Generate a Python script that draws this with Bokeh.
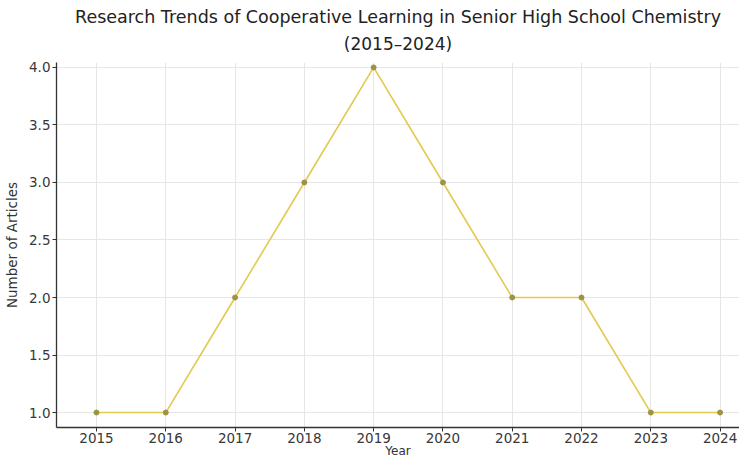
from bokeh.plotting import figure
from bokeh.models import Range1d, FixedTicker, Title, CustomJSTickFormatter
from bokeh.embed import file_html
from bokeh.resources import INLINE

years = [2015, 2016, 2017, 2018, 2019, 2020, 2021, 2022, 2023, 2024]
articles = [1, 1, 2, 3, 4, 3, 2, 2, 1, 1]
y_ticks = [1.0, 1.5, 2.0, 2.5, 3.0, 3.5, 4.0]
title_line1 = "Research Trends of Cooperative Learning in Senior High School Chemistry"
title_line2 = "(2015\u20132024)"
x_label = "Year"
y_label = "Number of Articles"

FONT = "DejaVu Sans"

p = figure(width=739, height=460, output_backend="svg", toolbar_location=None,
           x_range=Range1d(2014.423, 2024.28), y_range=Range1d(0.870, 4.043),
           min_border_left=56, min_border_right=0, min_border_bottom=0, min_border_top=0)
p.title = None
p.add_layout(Title(text=title_line2, align="center", text_font=FONT, text_font_size="17px",
                   text_font_style="normal", text_color="#222222", standoff=18), "above")
p.add_layout(Title(text=title_line1, align="center", text_font=FONT, text_font_size="17.5px",
                   text_font_style="normal", text_color="#222222", standoff=-9), "above")
p.add_layout(Title(text=" ", text_font_size="7px", standoff=0), "above")

p.outline_line_color = None
p.background_fill_color = "white"
p.border_fill_color = "white"

p.line(years, articles, line_color="#e3c94e", line_width=1.6)
p.scatter(years, articles, marker="circle", size=5, fill_color="#9c9443", line_color="#9c9443")

p.xaxis.ticker = FixedTicker(ticks=years)
p.yaxis.ticker = FixedTicker(ticks=y_ticks)
p.yaxis.formatter = CustomJSTickFormatter(code="return tick.toFixed(1);")

for ax in (p.xaxis[0], p.yaxis[0]):
    ax.axis_line_color = "#333333"
    ax.axis_line_width = 1.3
    ax.major_tick_line_color = "#333333"
    ax.major_tick_out = 4
    ax.major_tick_in = 0
    ax.minor_tick_line_color = None
    ax.major_label_text_font = FONT
    ax.major_label_text_font_size = "13.5px"
    ax.major_label_text_color = "#383838"
    ax.major_label_standoff = 2

p.xaxis.major_label_standoff = 1
p.xaxis.axis_label = x_label
p.xaxis.axis_label_text_font = FONT
p.xaxis.axis_label_text_font_size = "12px"
p.xaxis.axis_label_text_font_style = "normal"
p.xaxis.axis_label_text_color = "#333333"
p.xaxis.axis_label_standoff = -2

p.yaxis.axis_label = y_label
p.yaxis.axis_label_text_font = FONT
p.yaxis.axis_label_text_font_size = "13.5px"
p.yaxis.axis_label_text_font_style = "normal"
p.yaxis.axis_label_text_color = "#333333"
p.yaxis.axis_label_standoff = 6

p.xgrid.grid_line_color = "#e6e6e6"
p.ygrid.grid_line_color = "#e6e6e6"
p.xgrid.grid_line_width = 1
p.ygrid.grid_line_width = 1

open("out.html", "w").write(file_html(p, INLINE))
